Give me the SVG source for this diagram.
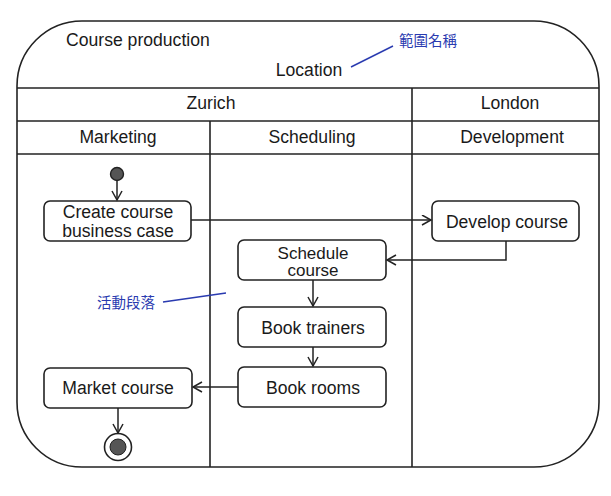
<svg xmlns="http://www.w3.org/2000/svg" width="611" height="496" viewBox="0 0 611 496">
<style>
.frame{fill:none;stroke:#222;stroke-width:1.6}
.box{fill:#fff;stroke:#222;stroke-width:1.6}
.t{font-family:"Liberation Sans",Arial,sans-serif;font-size:17.6px;fill:#1a1a1a;text-anchor:middle}
.tl{text-anchor:start}
.note{font-family:"Noto Sans CJK TC","Noto Sans CJK SC",sans-serif;font-size:14.5px;fill:#2a3bb0}
.nl{stroke:#2a3bb0;stroke-width:1.4;fill:none}
.c{fill:none;stroke:#222;stroke-width:1.5}
</style>
<defs>
<marker id="arr" markerUnits="userSpaceOnUse" markerWidth="12" markerHeight="12" refX="10" refY="5.5" orient="auto">
<path d="M1,0.5 L10,5.5 L1,10.5" fill="none" stroke="#222" stroke-width="1.5"/>
</marker>
</defs>
<g id="partition">
<rect class="frame" x="17" y="21" width="582" height="446" rx="65" ry="65"/>
<line class="frame" x1="17" y1="88" x2="599" y2="88"/>
<line class="frame" x1="17" y1="121" x2="599" y2="121"/>
<line class="frame" x1="17" y1="154" x2="599" y2="154"/>
<line class="frame" x1="412" y1="88" x2="412" y2="467"/>
<line class="frame" x1="210" y1="121" x2="210" y2="467"/>
<text class="t tl" x="66" y="46">Course production</text>
<text class="t" x="309" y="76">Location</text>
<text class="t" x="211" y="109">Zurich</text>
<text class="t" x="510" y="109">London</text>
<text class="t" x="118" y="143">Marketing</text>
<text class="t" x="312" y="143">Scheduling</text>
<text class="t" x="512" y="143">Development</text>
</g>
<g id="annotations">
<text class="note" x="399" y="46">範圍名稱</text>
<line class="nl" x1="351" y1="67" x2="393" y2="46"/>
<text class="note" x="97" y="308">活動段落</text>
<line class="nl" x1="163" y1="302" x2="226" y2="293"/>
</g>
<g id="start">
<circle cx="117" cy="174" r="6.5" fill="#555" stroke="#222" stroke-width="1.4"/>
</g>
<g id="create">
<rect class="box" x="44" y="201" width="147" height="40" rx="6"/>
<text class="t" x="118" y="217.5">Create course</text>
<text class="t" x="118" y="236.5">business case</text>
</g>
<g id="develop">
<rect class="box" x="432" y="201" width="147" height="40" rx="6"/>
<text class="t" x="507" y="228">Develop course</text>
</g>
<g id="schedule">
<rect class="box" x="238" y="240" width="148" height="40" rx="6"/>
<text class="t" x="313" y="258.5" style="font-size:17px">Schedule</text>
<text class="t" x="313" y="276" style="font-size:17px">course</text>
</g>
<g id="trainers">
<rect class="box" x="238" y="307" width="148" height="40" rx="6"/>
<text class="t" x="313" y="334">Book trainers</text>
</g>
<g id="rooms">
<rect class="box" x="238" y="367" width="148" height="40" rx="6"/>
<text class="t" x="313" y="394">Book rooms</text>
</g>
<g id="market">
<rect class="box" x="44" y="368" width="148" height="40" rx="6"/>
<text class="t" x="118" y="394">Market course</text>
</g>
<g id="end">
<circle cx="118" cy="447" r="13.5" fill="#fff" stroke="#222" stroke-width="1.6"/>
<circle cx="118" cy="447" r="8" fill="#555" stroke="#222" stroke-width="1"/>
</g>
<g id="connectors">
<path class="c" d="M117,181 L117,200" marker-end="url(#arr)"/>
<path class="c" d="M191,220 L431,220" marker-end="url(#arr)"/>
<path class="c" d="M506,241 L506,260 L387,260" marker-end="url(#arr)"/>
<path class="c" d="M313,280 L313,306" marker-end="url(#arr)"/>
<path class="c" d="M313,347 L313,366" marker-end="url(#arr)"/>
<path class="c" d="M238,387 L193,387" marker-end="url(#arr)"/>
<path class="c" d="M118,408 L118,433" marker-end="url(#arr)"/>
</g>
</svg>
